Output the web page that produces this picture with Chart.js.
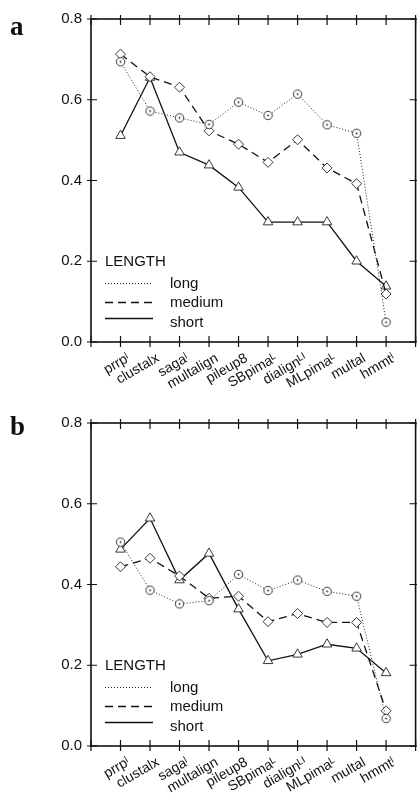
<!DOCTYPE html>
<html>
<head>
<meta charset="utf-8">
<script src="https://cdn.jsdelivr.net/npm/chart.js@4/dist/chart.umd.min.js"></script>
<style>
  body { margin: 0; background: #fff; overflow: hidden; }
  .panel { width: 417px; height: 397px; position: relative; overflow: hidden; }
</style>
</head>
<body>
<div class="panel"><canvas id="chartA" width="422" height="397"></canvas></div>
<div class="panel"><canvas id="chartB" width="422" height="397"></canvas></div>
<script>
// categories (alignment programs)
var methods = ['prrp\u02E1', 'clustalx', 'saga\u02E1', 'multalign', 'pileup8', 'SBpima\u1D38', 'dialign\u1D38\u1D35', 'MLpima\u1D38', 'multal', 'hmmt\u02E1'];
var yTicks = [0, 0.2, 0.4, 0.6, 0.8];
var seriesNames = ['long', 'medium', 'short'];

// panel a
var aLong = [0.694, 0.572, 0.555, 0.539, 0.594, 0.561, 0.614, 0.538, 0.517, 0.049];
var aMedium = [0.713, 0.657, 0.631, 0.523, 0.490, 0.445, 0.501, 0.431, 0.392, 0.119];
var aShort = [0.511, 0.655, 0.470, 0.438, 0.383, 0.297, 0.297, 0.297, 0.200, 0.138];

// panel b
var bLong = [0.505, 0.386, 0.352, 0.360, 0.425, 0.385, 0.411, 0.383, 0.371, 0.068];
var bMedium = [0.444, 0.465, 0.421, 0.366, 0.371, 0.308, 0.328, 0.306, 0.306, 0.087];
var bShort = [0.487, 0.564, 0.411, 0.477, 0.339, 0.211, 0.227, 0.252, 0.242, 0.181];

var FONT = '"Liberation Sans", Arial, Helvetica, sans-serif';
var INK = '#111';

// open circle with a dot in the middle
function dotCircle() {
  var c = document.createElement('canvas');
  c.width = 11; c.height = 11;
  var g = c.getContext('2d');
  g.beginPath();
  g.arc(5.5, 5.5, 4.2, 0, Math.PI * 2);
  g.fillStyle = '#fff';
  g.fill();
  g.lineWidth = 0.9;
  g.strokeStyle = '#222';
  g.stroke();
  g.beginPath();
  g.arc(5.5, 5.5, 0.9, 0, Math.PI * 2);
  g.fillStyle = '#222';
  g.fill();
  return c;
}
var circleImg = dotCircle();

function pts(vals) {
  return vals.map(function (v, i) { return { x: i + 1, y: v }; });
}

var lineStyles = {
  long: { dash: [1, 2], width: 1, color: '#222' },
  medium: { dash: [8, 5], width: 1.3, color: '#111' },
  short: { dash: [], width: 1.3, color: '#111' }
};

var framePlugin = {
  id: 'frame',
  afterDraw: function (chart, args, opts) {
    var ctx = chart.ctx, a = chart.chartArea;
    var xs = chart.scales.x, ys = chart.scales.y;
    ctx.save();
    ctx.strokeStyle = INK;
    ctx.lineWidth = 1.6;
    ctx.strokeRect(a.left, a.top, a.right - a.left, a.bottom - a.top);
    // ticks crossing the frame
    ctx.lineWidth = 1.2;
    ctx.beginPath();
    for (var v = 0; v <= methods.length + 1; v++) {
      var px = xs.getPixelForValue(v);
      ctx.moveTo(px, a.bottom - 6); ctx.lineTo(px, a.bottom + 5);
      ctx.moveTo(px, a.top - 4); ctx.lineTo(px, a.top + 6);
    }
    yTicks.forEach(function (t) {
      var py = ys.getPixelForValue(t);
      ctx.moveTo(a.left - 4, py); ctx.lineTo(a.left + 6, py);
      ctx.moveTo(a.right - 6, py); ctx.lineTo(a.right + 4, py);
    });
    ctx.stroke();

    // legend box, lower left inside the plot
    ctx.fillStyle = INK;
    ctx.font = '15px ' + FONT;
    ctx.textBaseline = 'middle';
    ctx.textAlign = 'left';
    var lx = a.left + 14;
    ctx.fillText('LENGTH', lx, a.bottom - 80);
    var rows = [a.bottom - 58.5, a.bottom - 39.5, a.bottom - 19.5];
    var lineRows = [a.bottom - 58.5, a.bottom - 39.5, a.bottom - 23.5];
    seriesNames.forEach(function (n, i) {
      var s = lineStyles[n];
      ctx.beginPath();
      ctx.setLineDash(s.dash);
      ctx.lineWidth = s.width;
      ctx.strokeStyle = s.color;
      ctx.moveTo(lx, lineRows[i]);
      ctx.lineTo(lx + 48, lineRows[i]);
      ctx.stroke();
      ctx.fillText(n, a.left + 79, rows[i]);
    });
    ctx.setLineDash([]);

    // panel letter
    ctx.font = 'bold 27px "Liberation Serif", "Times New Roman", serif';
    ctx.textBaseline = 'alphabetic';
    ctx.fillText(opts.letter, 10, opts.letterY);
    ctx.restore();
  }
};

function makeChart(id, letter, letterY, top, xHeight, longV, medV, shortV) {
  var ds = [
    { label: 'long', data: pts(longV), pointStyle: circleImg },
    { label: 'medium', data: pts(medV), pointStyle: 'rectRot', pointRadius: 5 },
    { label: 'short', data: pts(shortV), pointStyle: 'triangle', pointRadius: 5.5 }
  ].map(function (d) {
    var s = lineStyles[d.label];
    d.borderColor = s.color;
    d.borderWidth = s.width;
    d.borderDash = s.dash;
    d.pointBorderColor = '#222';
    d.pointBorderWidth = 0.9;
    d.pointBackgroundColor = '#fff';
    if (!d.pointRadius) d.pointRadius = 5;
    d.tension = 0;
    d.clip = false;
    return d;
  });

  return new Chart(document.getElementById(id), {
    type: 'line',
    data: { datasets: ds },
    options: {
      responsive: false,
      animation: false,
      events: [],
      layout: { padding: { top: top, right: 2, left: 0, bottom: 0 } },
      plugins: {
        legend: { display: false },
        tooltip: { enabled: false },
        frame: { letter: letter, letterY: letterY }
      },
      scales: {
        x: {
          type: 'linear',
          min: 0,
          max: methods.length + 1,
          grid: { display: false, drawTicks: false },
          border: { display: false },
          afterFit: function (s) {
            s.height = xHeight;
            s.paddingLeft = 0;
            s.paddingRight = 0;
          },
          afterBuildTicks: function (s) {
            s.ticks = [];
            for (var i = 0; i <= methods.length + 1; i++) s.ticks.push({ value: i });
          },
          ticks: {
            autoSkip: false,
            minRotation: 30,
            maxRotation: 30,
            padding: 8,
            labelOffset: 8,
            color: INK,
            font: { family: FONT, size: 14 },
            callback: function (v) { return methods[v - 1] || ''; }
          }
        },
        y: {
          min: 0,
          max: 0.8,
          grid: { display: false, drawTicks: false },
          border: { display: false },
          afterFit: function (s) {
            s.width = 91;
            s.paddingTop = 0;
            s.paddingBottom = 0;
          },
          afterBuildTicks: function (s) {
            s.ticks = yTicks.map(function (t) { return { value: t }; });
          },
          ticks: {
            padding: 9,
            color: INK,
            font: { family: FONT, size: 15 },
            callback: function (v) { return v.toFixed(1); }
          }
        }
      }
    },
    plugins: [framePlugin]
  });
}

makeChart('chartA', 'a', 35, 19, 55, aLong, aMedium, aShort);
makeChart('chartB', 'b', 38, 26, 48, bLong, bMedium, bShort);
</script>
</body>
</html>
